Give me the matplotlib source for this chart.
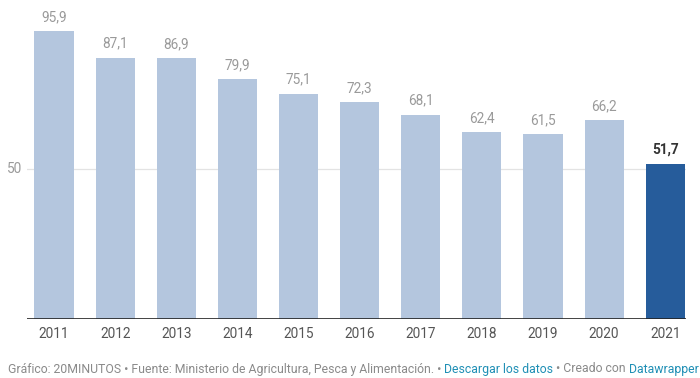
import matplotlib.pyplot as plt

years = ["2011", "2012", "2013", "2014", "2015", "2016", "2017", "2018", "2019", "2020", "2021"]
values = [95.9, 87.1, 86.9, 79.9, 75.1, 72.3, 68.1, 62.4, 61.5, 66.2, 51.7]
labels = ["95,9", "87,1", "86,9", "79,9", "75,1", "72,3", "68,1", "62,4", "61,5", "66,2", "51,7"]

plt.rcParams['font.family'] = ['Roboto', 'DejaVu Sans']

W, H = 700, 378
fig = plt.figure(figsize=(W / 100, H / 100), dpi=100)
# axes from x=27..686 px, y=0..319 px
ax = fig.add_axes([27 / W, (H - 319) / H, (686 - 27) / W, 319 / H])

light = "#b4c6de"
dark = "#265c9b"
xs = list(range(len(years)))
colors = [light] * (len(years) - 1) + [dark]
ax.bar(xs, values, width=0.64, color=colors, zorder=2)

for i, (v, lab) in enumerate(zip(values, labels)):
    last = i == len(values) - 1
    ax.text(i, v + 2.3, lab, ha="center", va="bottom", fontsize=9.8,
            color="#333333" if last else "#9a9a9a",
            fontweight="bold" if last else "normal")

ax.set_xlim(-0.442, 10.34)
ax.set_ylim(0, 106.3)
ax.axhline(50, color="#e3e3e3", lw=0.9, zorder=1)
ax.axhline(0, color="#222222", lw=1.2, zorder=3)
ax.text(-0.52, 50, "50", ha="right", va="center", fontsize=9.8, color="#9a9a9a",
        clip_on=False)

ax.set_xticks(xs)
ax.set_xticklabels(years, fontsize=9.8, color="#555555")
ax.tick_params(axis="x", length=0, pad=6)
ax.set_yticks([])
for s in ax.spines.values():
    s.set_visible(False)

# footer, several coloured pieces laid out one after another
gray = "#8a8a8a"
blue = "#1f8fb5"
parts = [("Gráfico: 20MINUTOS • Fuente: Ministerio de Agricultura, Pesca y Alimentación. • ", gray),
         ("Descargar los datos", blue),
         (" • Creado con ", gray),
         ("Datawrapper", blue)]
footer = [fig.text(0, 0, txt, color=col, fontsize=8.85, va="center", ha="left") for txt, col in parts]

fig.canvas.draw()
renderer = fig.canvas.get_renderer()
x = 8
for tx in footer:
    tx.set_position((x / W, 1 - 369 / H))
    x += tx.get_window_extent(renderer).width

fig.savefig("out.png", dpi=100, facecolor="white")
